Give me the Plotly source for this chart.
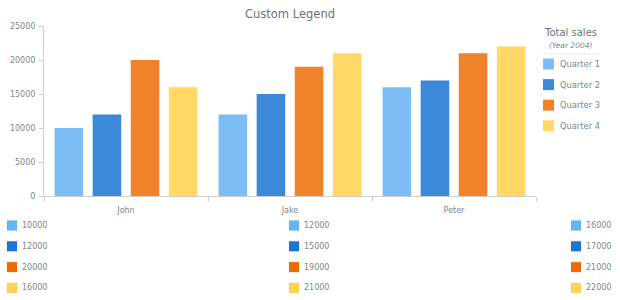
import plotly.graph_objects as go

categories = ["John", "Jake", "Peter"]
series_names = ["Quarter 1", "Quarter 2", "Quarter 3", "Quarter 4"]
q1 = [10000, 12000, 16000]
q2 = [12000, 15000, 17000]
q3 = [20000, 19000, 21000]
q4 = [16000, 21000, 22000]
series_values = [q1, q2, q3, q4]
bar_colors = ["#7cbdf6", "#3b89d8", "#f0822a", "#ffd866"]
legend_colors = ["#64b5f6", "#1976d2", "#ef6c00", "#ffd54f"]
y_ticks = [0, 5000, 10000, 15000, 20000, 25000]
y_tick_labels = ["0", "5000", "10000", "15000", "20000", "25000"]

FONT = "DejaVu Sans, Verdana, sans-serif"
TXT = "#7c868e"

W, H = 620, 300
L, R, T, B = 44, 536, 26, 196


def px(x):
    return (x - L) / (R - L)


def py(y):
    return (B - y) / (B - T)


fig = go.Figure()
for name, vals, col in zip(series_names, series_values, bar_colors):
    fig.add_trace(go.Bar(x=categories, y=vals, name=name, marker=dict(color=col, line=dict(width=0)),
                         showlegend=False, hoverinfo="x+y+name"))

shapes = []
annotations = []

# right legend
annotations.append(dict(x=px(570), y=py(33), xref="paper", yref="paper", text="Total sales",
                        showarrow=False, xanchor="center", yanchor="middle",
                        font=dict(family=FONT, size=10, color="#6a737b")))
annotations.append(dict(x=px(570), y=py(45), xref="paper", yref="paper", text="<i>(Year 2004)</i>",
                        showarrow=False, xanchor="center", yanchor="middle",
                        font=dict(family=FONT, size=7.5, color="#7c868e")))
shapes.append(dict(type="line", xref="paper", yref="paper", x0=px(543), x1=px(599), y0=py(54), y1=py(54),
                   line=dict(color="#ececec", width=1)))
for i, (name, col) in enumerate(zip(series_names, bar_colors)):
    cy = 64 + i * 20.6
    shapes.append(dict(type="rect", xref="paper", yref="paper", x0=px(543), x1=px(554),
                       y0=py(cy - 5.5), y1=py(cy + 5.5), fillcolor=col, line=dict(width=0)))
    annotations.append(dict(x=px(558), y=py(cy), xref="paper", yref="paper", text=name,
                            showarrow=False, xanchor="left", yanchor="middle",
                            font=dict(family=FONT, size=8.3, color=TXT)))

# bottom per-category legends
col_x = [7, 289, 571]
for ci, cat in enumerate(categories):
    for si in range(len(series_names)):
        cy = 225.5 + si * 20.8
        x0 = col_x[ci]
        shapes.append(dict(type="rect", xref="paper", yref="paper", x0=px(x0), x1=px(x0 + 10),
                           y0=py(cy - 5), y1=py(cy + 5), fillcolor=legend_colors[si],
                           line=dict(width=0.6, color="rgba(0,0,0,0.08)")))
        annotations.append(dict(x=px(x0 + 13), y=py(cy), xref="paper", yref="paper",
                                text=str(series_values[si][ci]),
                                showarrow=False, xanchor="left", yanchor="middle",
                                font=dict(family=FONT, size=8, color=TXT)))

fig.update_layout(
    width=W, height=H,
    margin=dict(l=L, r=W - R, t=T, b=H - B, pad=0, autoexpand=False),
    paper_bgcolor="white", plot_bgcolor="white",
    title=dict(text="Custom Legend", x=0.5, xref="paper", xanchor="center", y=1 - 14 / H, yref="container",
               yanchor="middle", font=dict(family=FONT, size=11.5, color="#6a737b")),
    barmode="group", bargap=0.071, bargroupgap=0.25,
    shapes=shapes, annotations=annotations,
    font=dict(family=FONT, size=8, color=TXT),
    xaxis=dict(showgrid=False, showline=True, linecolor="#cecece", linewidth=1, automargin=False,
               ticks="outside", tickson="boundaries", ticklen=5, tickcolor="#cecece",
               ticklabelstandoff=6,
               tickfont=dict(family=FONT, size=8, color=TXT), zeroline=False),
    yaxis=dict(range=[0, 25000], tickvals=y_ticks, ticktext=y_tick_labels, showgrid=False, showline=True,
               linecolor="#cecece", linewidth=1, ticks="outside", ticklen=4, tickcolor="#cecece",
               zeroline=False, ticklabelstandoff=2, automargin=False,
               tickfont=dict(family=FONT, size=8, color=TXT)),
)

fig.write_html("out.html")
